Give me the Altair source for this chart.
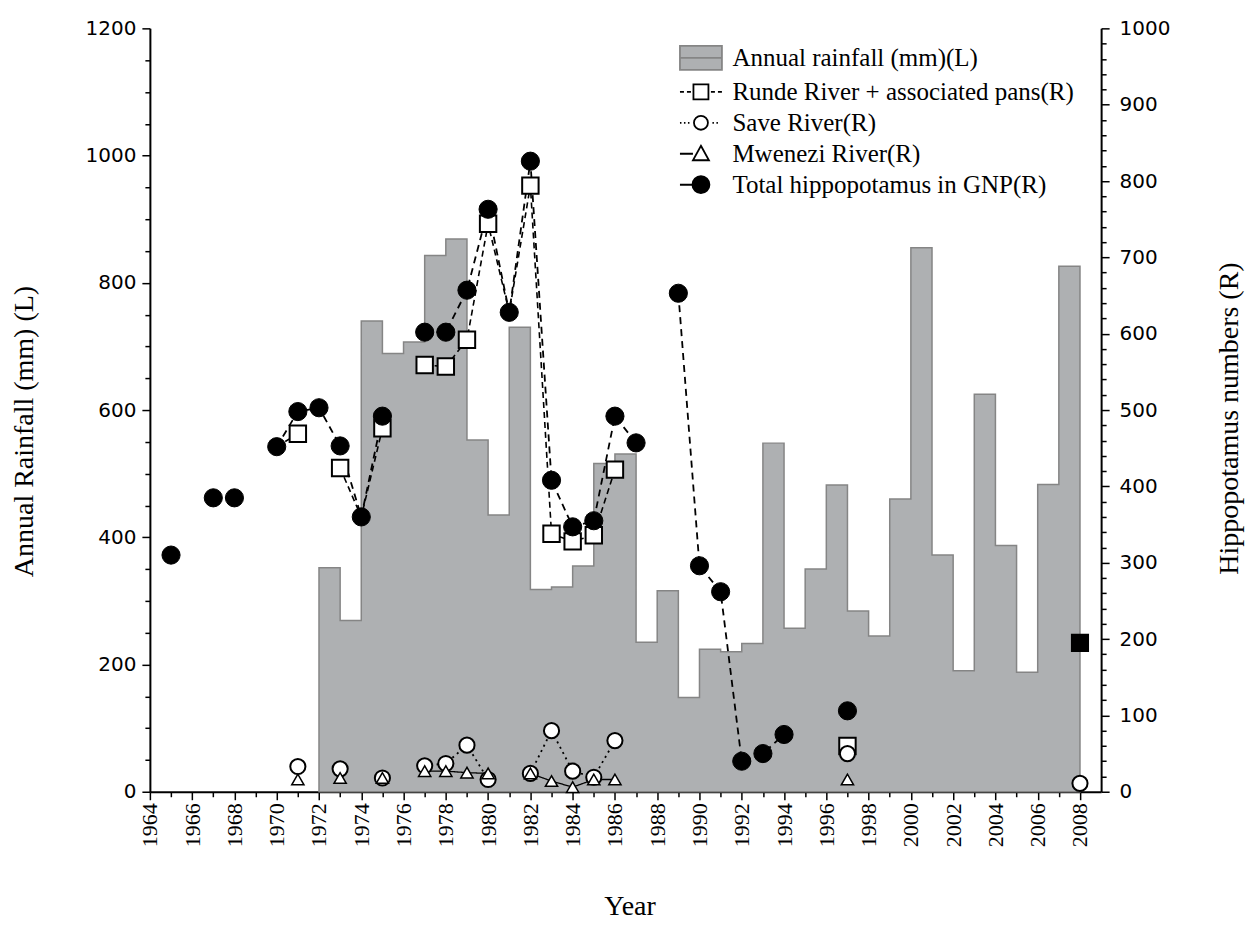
import altair as alt
import pandas as pd

# ---------------- data ----------------
rain_years = list(range(1972, 2008))
rainfall_mm = [352, 269, 740, 689, 707, 843, 869, 553, 435, 730,
               318, 322, 355, 516, 531, 235, 316, 148, 224, 220,
               233, 548, 257, 350, 482, 284, 245, 460, 855, 372,
               190, 625, 387, 188, 483, 826]

total_years = [1965, 1967, 1968, 1970, 1971, 1972, 1973, 1974, 1975, 1977,
               1978, 1979, 1980, 1981, 1982, 1983, 1984, 1985, 1986, 1987,
               1989, 1990, 1991, 1992, 1993, 1994, 1997]
total_hippo = [310, 385, 385, 452, 498, 503, 453, 360, 492, 602,
               602, 657, 763, 628, 826, 408, 347, 355, 492, 457,
               653, 296, 262, 40, 50, 75, 106]

runde_years = [1970, 1971, 1973, 1974, 1975, 1977, 1978, 1979, 1980, 1981,
               1982, 1983, 1984, 1985, 1986, 1997]
runde_hippo = [452, 469, 424, 360, 476, 559, 557, 592, 744, 628,
               794, 338, 328, 336, 422, 60]

save_years = [1971, 1973, 1975, 1977, 1978, 1979, 1980, 1982, 1983, 1984,
              1985, 1986, 1997, 2008]
save_hippo = [33, 30, 18, 34, 37, 61, 16, 24, 80, 27, 19, 67, 50, 11]

mwenezi_years = [1971, 1973, 1975, 1977, 1978, 1979, 1980, 1982, 1983, 1984,
                 1985, 1986, 1997]
mwenezi_hippo = [16, 18, 18, 27, 27, 25, 24, 24, 14, 6, 16, 16, 16]

extra_years = [2008]
extra_hippo = [195]

series_names = ["Annual rainfall (mm)(L)",
                "Runde River + associated pans(R)",
                "Save River(R)",
                "Mwenezi River(R)",
                "Total hippopotamus in GNP(R)"]

# ---------------- tables ----------------
# step area: last bar closes at the year after the last observation
rain_df = pd.DataFrame({"year": rain_years + [rain_years[-1] + 1],
                        "rain": rainfall_mm + [rainfall_mm[-1]]})

total_pairs = set(zip(total_years, total_hippo))


def long_table(name, years, values, check_cover=False):
    seg, segs = 0, []
    for i, y in enumerate(years):
        if i > 0 and y - years[i - 1] > 1:
            seg += 1
        segs.append(seg)
    covered = [check_cover and (y, v) in total_pairs for y, v in zip(years, values)]
    return pd.DataFrame({"series": name, "year": years, "value": values,
                         "seg": segs, "covered": covered})


pts = pd.concat([
    long_table(series_names[1], runde_years, runde_hippo, check_cover=True),
    long_table(series_names[2], save_years, save_hippo),
    long_table(series_names[3], mwenezi_years, mwenezi_hippo),
    long_table(series_names[4], total_years, total_hippo),
], ignore_index=True)
extra_df = pd.DataFrame({"year": extra_years, "value": extra_hippo})

# ---------------- encodings ----------------
X = alt.X("year:Q",
          scale=alt.Scale(domain=[1964, 2009], nice=False, zero=False),
          axis=alt.Axis(
              title="Year", values=list(range(1964, 2009)), format="d",
              labelExpr="datum.value % 2 === 0 ? datum.label : ''",
              labelOverlap=False, labelAngle=270, labelFont="Liberation Serif",
              labelFontSize=22, labelColor="black", labelPadding=3,
              tickSize={"condition": {"test": "datum.value % 2 === 0", "value": 8}, "value": 5},
              tickColor="black", tickWidth=1.5, domainColor="black", domainWidth=2,
              grid=False, titleFont="Liberation Serif", titleFontSize=28,
              titleFontWeight="normal", titleColor="black",
              titleX=480, titleY=115, titleAlign="center", titleBaseline="middle"))

Y_left = alt.Y("rain:Q",
               scale=alt.Scale(domain=[0, 1200], nice=False),
               axis=alt.Axis(
                   title="Annual Rainfall (mm) (L)", values=list(range(0, 1201, 50)),
                   format="d", labelExpr="datum.value % 200 === 0 ? datum.label : ''",
                   labelOverlap=False, labelFont="DejaVu Sans", labelFontSize=20,
                   labelColor="black", labelPadding=6,
                   tickSize={"condition": {"test": "datum.value % 200 === 0", "value": 8}, "value": 5},
                   tickColor="black", tickWidth=1.5, domainColor="black", domainWidth=2,
                   grid=False, titleFont="Liberation Serif", titleFontSize=28,
                   titleFontWeight="normal", titleColor="black", titleAngle=270,
                   titleX=-125, titleY=403, titleAlign="center", titleBaseline="middle"))

Y_right = alt.Y("value:Q",
                scale=alt.Scale(domain=[0, 1000], nice=False),
                axis=alt.Axis(
                    orient="right", title="Hippopotamus numbers (R)",
                    values=list(range(0, 1001, 20)), format="d",
                    labelExpr="datum.value % 100 === 0 ? datum.label : ''",
                    labelOverlap=False, labelFont="DejaVu Sans", labelFontSize=20,
                    labelColor="black", labelPadding=10,
                    tickSize={"condition": {"test": "datum.value % 100 === 0", "value": 8}, "value": 5},
                    tickColor="black", tickWidth=1.5, domainColor="black", domainWidth=2,
                    grid=False, titleFont="Liberation Serif", titleFontSize=28,
                    titleFontWeight="normal", titleColor="black", titleAngle=270,
                    titleX=128, titleY=390, titleAlign="center", titleBaseline="middle"))

# ---------------- layers ----------------
rain_layer = alt.Chart(rain_df).mark_area(
    interpolate="step-after", fill="#aeb0b2", stroke="#858585", strokeWidth=1.5
).encode(x=X, y=Y_left)

base = alt.Chart(pts)


def line_for(name, dash, width):
    return base.transform_filter(alt.datum.series == name).mark_line(
        color="black", strokeDash=dash, strokeWidth=width
    ).encode(x=X, y=Y_right, detail="seg:N")


lines = [
    line_for(series_names[4], [7, 5], 1.8),
    line_for(series_names[1], [6, 4], 1.6),
    line_for(series_names[2], [2, 4], 1.8),
    line_for(series_names[3], [1, 0], 1.3),
]


def points_for(name, shape, fill, size, sw):
    return base.transform_filter(
        (alt.datum.series == name) & (alt.datum.covered == False)
    ).mark_point(
        shape=shape, filled=True, fill=fill, stroke="black", strokeWidth=sw,
        size=size, opacity=1
    ).encode(x=X, y=Y_right)


points = [
    points_for(series_names[1], "square", "white", 270, 2),
    points_for(series_names[2], "circle", "white", 230, 2),
    points_for(series_names[3], "triangle-up", "white", 150, 1.5),
    points_for(series_names[4], "circle", "black", 330, 1),
]

extra_layer = alt.Chart(extra_df).mark_point(
    shape="square", filled=True, fill="black", stroke="black", size=260, opacity=1
).encode(x=X, y=Y_right)

# legend symbols (unit = 10 px at symbolSize 400)
circle = lambda r: f"M{-r},0A{r},{r} 0 1,0 {r},0A{r},{r} 0 1,0 {-r},0Z"
legend_shapes = [
    "M-2.1,-1.2H2.1V1.2H-2.1ZM-2.1,0H2.1",
    "M-2.1,0H-1.7M-1.4,0H-1.0M-0.75,-0.75H0.75V0.75H-0.75ZM1.0,0H1.4M1.7,0H2.1",
    "M-2.1,0H-1.95M-1.7,0H-1.55M-1.3,0H-1.15" + circle(0.7) + "M1.15,0H1.3M1.55,0H1.7",
    "M-2.1,0H-0.8M0,-0.8L0.8,0.65H-0.8Z",
    "M-2.1,0H-0.85" + circle(0.85),
]
legend_fill = ["#aeb0b2", "white", "white", "white", "black"]
legend_stroke = ["#858585", "black", "black", "black", "black"]

leg = alt.Legend(title=None, orient="none", legendX=539, legendY=17,
                 symbolSize=400, symbolStrokeWidth=1.8, symbolOpacity=1,
                 labelFont="Liberation Serif", labelFontSize=25, labelColor="black",
                 labelOffset=19, rowPadding=5, padding=0, labelLimit=600)

legend_layer = base.mark_point(opacity=0, filled=True).encode(
    x=X, y=Y_right,
    shape=alt.Shape("series:N", scale=alt.Scale(domain=series_names, range=legend_shapes), legend=leg),
    fill=alt.Fill("series:N", scale=alt.Scale(domain=series_names, range=legend_fill), legend=leg),
    stroke=alt.Stroke("series:N", scale=alt.Scale(domain=series_names, range=legend_stroke), legend=leg),
)

hippo = alt.layer(*lines, *points, extra_layer, legend_layer)

chart = alt.layer(rain_layer, hippo).resolve_scale(y="independent").properties(
    width=952, height=764,
    autosize=alt.AutoSizeParams(type="none"),
    padding={"left": 142, "top": 20, "right": 146, "bottom": 131},
    background="white",
).configure_view(stroke="transparent")

chart.save("out.html", embed_options={"renderer": "svg", "actions": False})
